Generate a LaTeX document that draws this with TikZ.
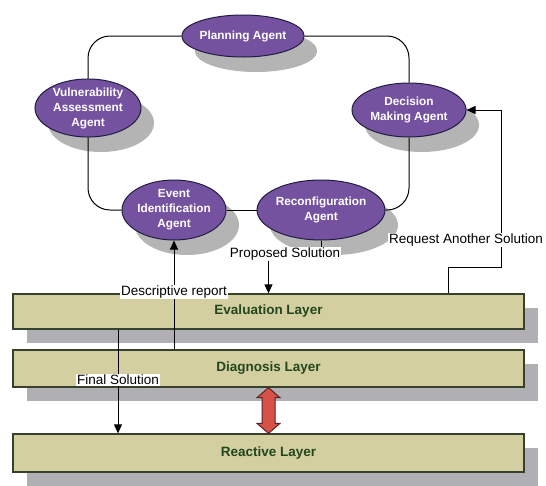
\documentclass[tikz,border=0pt]{standalone}
\usepackage{fontspec}
\setmainfont{Liberation Sans}
\usetikzlibrary{shapes.geometric,shadows,arrows.meta,calc}
\pgfdeclarelayer{front}
\pgfsetlayers{main,front}
\definecolor{agentfill}{RGB}{116,82,160}
\definecolor{agentline}{RGB}{35,28,65}
\definecolor{agentshadow}{RGB}{180,180,180}
\definecolor{layerfill}{RGB}{212,207,160}
\definecolor{layerline}{RGB}{55,65,45}
\definecolor{layertext}{RGB}{35,70,30}
\definecolor{layershadow}{RGB}{176,176,180}
\definecolor{redfill}{RGB}{214,82,72}
\definecolor{redline}{RGB}{90,35,30}
\begin{document}
\begin{tikzpicture}[x=1pt,y=-1pt,
 agent/.style={ellipse, draw=agentline, line width=1pt, fill=agentfill, text=white,
   font=\fontsize{11.8}{15}\selectfont\bfseries, align=center, inner sep=0pt,
   drop shadow={shadow xshift=13pt, shadow yshift=-15pt, fill=agentshadow, opacity=1}},
 layer/.style={rectangle, draw=layerline, line width=1.3pt, fill=layerfill, text=layertext,
   font=\fontsize{13.5}{16}\selectfont\bfseries, minimum width=511pt, inner sep=0pt,
   drop shadow={shadow xshift=14pt, shadow yshift=-14pt, fill=layershadow, opacity=1}},
 lbl/.style={fill=white, inner sep=1pt, font=\fontsize{13.5}{16}\selectfont},
 ring/.style={draw=black, line width=1pt, rounded corners=22pt},
 conn/.style={draw=black, line width=1pt},
 arr/.style={conn, -{Triangle[length=9pt,width=8pt]}},
 redarrow/.style={fill=redfill, draw=redline, line width=1pt, line join=miter},
]
\useasboundingbox (0,0) rectangle (546,485);

% labels (drawn on the front layer so they cover lines)
\begin{pgfonlayer}{front}
\node[lbl] (prop) at (285,254) {Proposed Solution};
\node[lbl] (req)  at (466,240) {Request Another Solution};
\node[lbl] (desc) at (174,292) {Descriptive report};
\node[lbl] (fin)  at (118,380) {Final Solution};
\end{pgfonlayer}

% layers
\node[layer, minimum height=35pt] (eval) at (268.5,311.5) {Evaluation Layer};
\node[layer, minimum height=37pt] (diag) at (268.5,368.5) {Diagnosis Layer};
\node[layer, minimum height=38pt] (reac) at (268.5,453) {Reactive Layer};

% agents
\node[agent, minimum width=106pt, minimum height=42pt] (plan) at (243,36) {Planning Agent};
\node[agent, minimum width=106pt, minimum height=58pt] (vul) at (88,108) {Vulnerability\\Assessment\\Agent};
\node[agent, minimum width=114pt, minimum height=54pt] (dec) at (409,110) {Decision\\Making Agent};
\node[agent, minimum width=104pt, minimum height=60pt] (evt) at (174,210) {Event\\Identification\\Agent};
\node[agent, minimum width=118pt, minimum height=60pt] (rec) at (321,210) {Reconfiguration\\Agent};

% ring
\draw[ring] (plan) -| (vul);
\draw[ring] (vul) |- (evt);
\draw[ring] (evt) -- (rec);
\draw[ring] (rec) -| (dec);
\draw[ring] (dec) |- (plan);

% connectors
\coordinate (rqs) at (448,0);
\coordinate (rqx) at (501,0);
\draw[conn] (rec.south) -- (rec.south |- prop.north);
\draw[arr] (prop.south -| eval.north) -- (eval.north);
\draw[arr] (rqs |- eval.north) -- ++(0,-26) -| (rqx |- dec.east) -- (dec.east);
\draw[arr] (diag.north -| evt.south) -- (evt.south);
\draw[arr] (eval.south -| fin) -- (reac.north -| fin);

% red double arrow
\coordinate (ra) at (diag.south);
\coordinate (rb) at (reac.north);
\draw[redarrow] (ra) -- ++(11.5,10) -- ++(-5,0) -- ($(rb)+(6.5,-10)$) -- ++(5,0) -- (rb)
  -- ++(-11.5,-10) -- ++(5,0) -- ($(ra)+(-6.5,10)$) -- ++(-5,0) -- cycle;
\end{tikzpicture}
\end{document}
